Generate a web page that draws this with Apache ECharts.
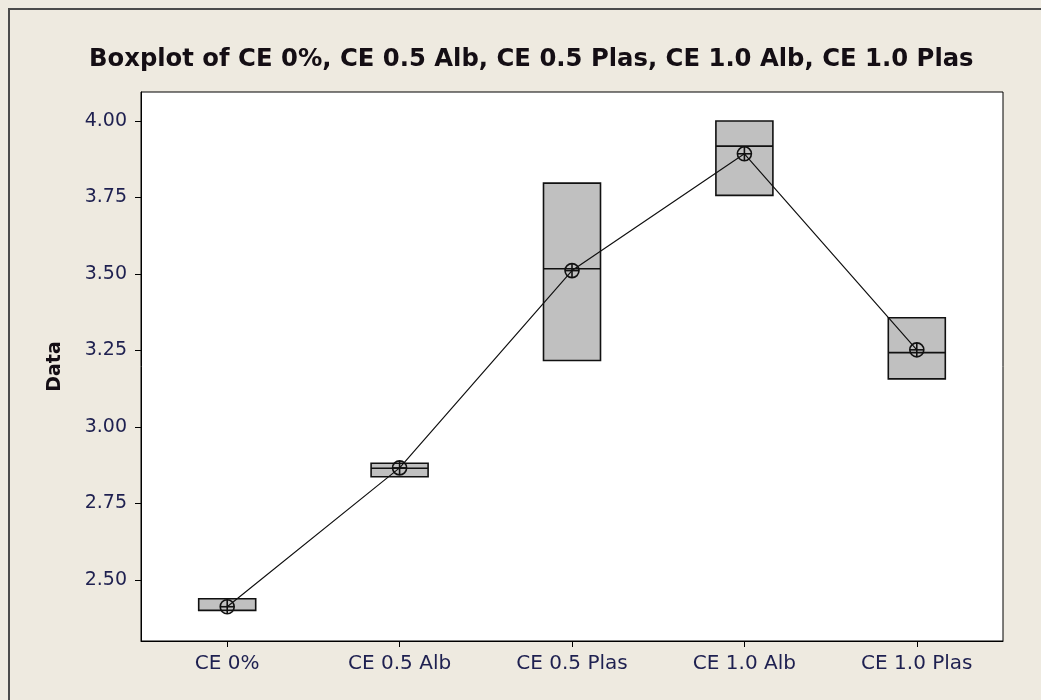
<!DOCTYPE html>
<html>
<head>
<meta charset="utf-8">
<script src="https://cdn.jsdelivr.net/npm/echarts@6/dist/echarts.min.js"></script>
<style>
  html, body { margin: 0; padding: 0; background: #eeeae0; }
  #frame { position: absolute; left: 8px; top: 8px; width: 1040px; height: 700px;
           border-left: 2px solid #4a4a4a; border-top: 2px solid #4a4a4a; box-sizing: border-box; }
  #chart { position: absolute; left: 0; top: 0; width: 1041px; height: 700px; }
</style>
</head>
<body>
<div id="frame"></div>
<div id="chart"></div>
<script>
// Groups on the x axis
const categories = ['CE 0%', 'CE 0.5 Alb', 'CE 0.5 Plas', 'CE 1.0 Alb', 'CE 1.0 Plas'];
// Box edges (first quartile / third quartile) and medians
const q1Values = [2.40, 2.837, 3.217, 3.757, 3.157];
const medianValues = [2.40, 2.865, 3.517, 3.918, 3.243];
const q3Values = [2.438, 2.881, 3.797, 4.00, 3.357];
// Group means, joined by the connect line
const meanValues = [2.412, 2.866, 3.511, 3.893, 3.252];
// Y axis tick labels
const yTicks = [2.50, 2.75, 3.00, 3.25, 3.50, 3.75, 4.00];

const labelColor = '#1e2050';
const fontFamily = 'DejaVu Sans';

const boxData = categories.map((c, i) => [q1Values[i], q1Values[i], medianValues[i], q3Values[i], q3Values[i]]);

const chart = echarts.init(document.getElementById('chart'), null, { renderer: 'canvas' });
chart.setOption({
  backgroundColor: 'transparent',
  animation: false,
  title: {
    text: 'Boxplot of CE 0%, CE 0.5 Alb, CE 0.5 Plas, CE 1.0 Alb, CE 1.0 Plas',
    left: 84,
    top: 43,
    textStyle: { fontFamily: fontFamily, fontWeight: 'bold', fontSize: 24.3, color: '#140e14' }
  },
  grid: {
    left: 141, top: 92, width: 862, height: 549,
    show: true, backgroundColor: '#ffffff', borderColor: '#000000', borderWidth: 1
  },
  xAxis: {
    type: 'category',
    data: categories,
    boundaryGap: true,
    axisLine: { show: true, lineStyle: { color: '#000', width: 1 } },
    axisTick: { show: true, alignWithLabel: true, length: 6, lineStyle: { color: '#000' } },
    axisLabel: { margin: 13, fontFamily: fontFamily, fontSize: 20, color: labelColor },
    splitLine: { show: false }
  },
  yAxis: {
    type: 'value',
    min: 2.30,
    max: 4.095,
    name: 'Data',
    nameLocation: 'middle',
    nameGap: 76,
    nameTextStyle: { fontFamily: fontFamily, fontWeight: 'bold', fontSize: 19, color: '#140e14' },
    axisLine: { show: true, lineStyle: { color: '#000', width: 1 } },
    axisTick: { show: true, length: 6, customValues: yTicks, lineStyle: { color: '#000' } },
    axisLabel: {
      margin: 14, fontFamily: fontFamily, fontSize: 19, color: labelColor,
      customValues: yTicks,
      formatter: v => v.toFixed(2)
    },
    splitLine: { show: false }
  },
  series: [
    {
      type: 'boxplot',
      data: boxData,
      boxWidth: [57, 57],
      itemStyle: { color: '#c0c0c0', borderColor: '#111', borderWidth: 1.6 },
      emphasis: { disabled: true },
      z: 2
    },
    {
      type: 'line',
      data: meanValues,
      symbol: 'none',
      lineStyle: { color: '#111', width: 1.2 },
      z: 3
    },
    {
      // Mean markers: circle with a cross
      type: 'custom',
      data: meanValues.map((v, i) => [i, v]),
      z: 4,
      renderItem: function (params, api) {
        const p = api.coord([api.value(0), api.value(1)]);
        const r = 7;
        return {
          type: 'group',
          children: [
            { type: 'circle', shape: { cx: p[0], cy: p[1], r: r },
              style: { fill: 'none', stroke: '#111', lineWidth: 1.6 } },
            { type: 'line', shape: { x1: p[0] - r, y1: p[1], x2: p[0] + r, y2: p[1] },
              style: { stroke: '#111', lineWidth: 1.6 } },
            { type: 'line', shape: { x1: p[0], y1: p[1] - r, x2: p[0], y2: p[1] + r },
              style: { stroke: '#111', lineWidth: 1.6 } }
          ]
        };
      }
    }
  ]
});
</script>
</body>
</html>
